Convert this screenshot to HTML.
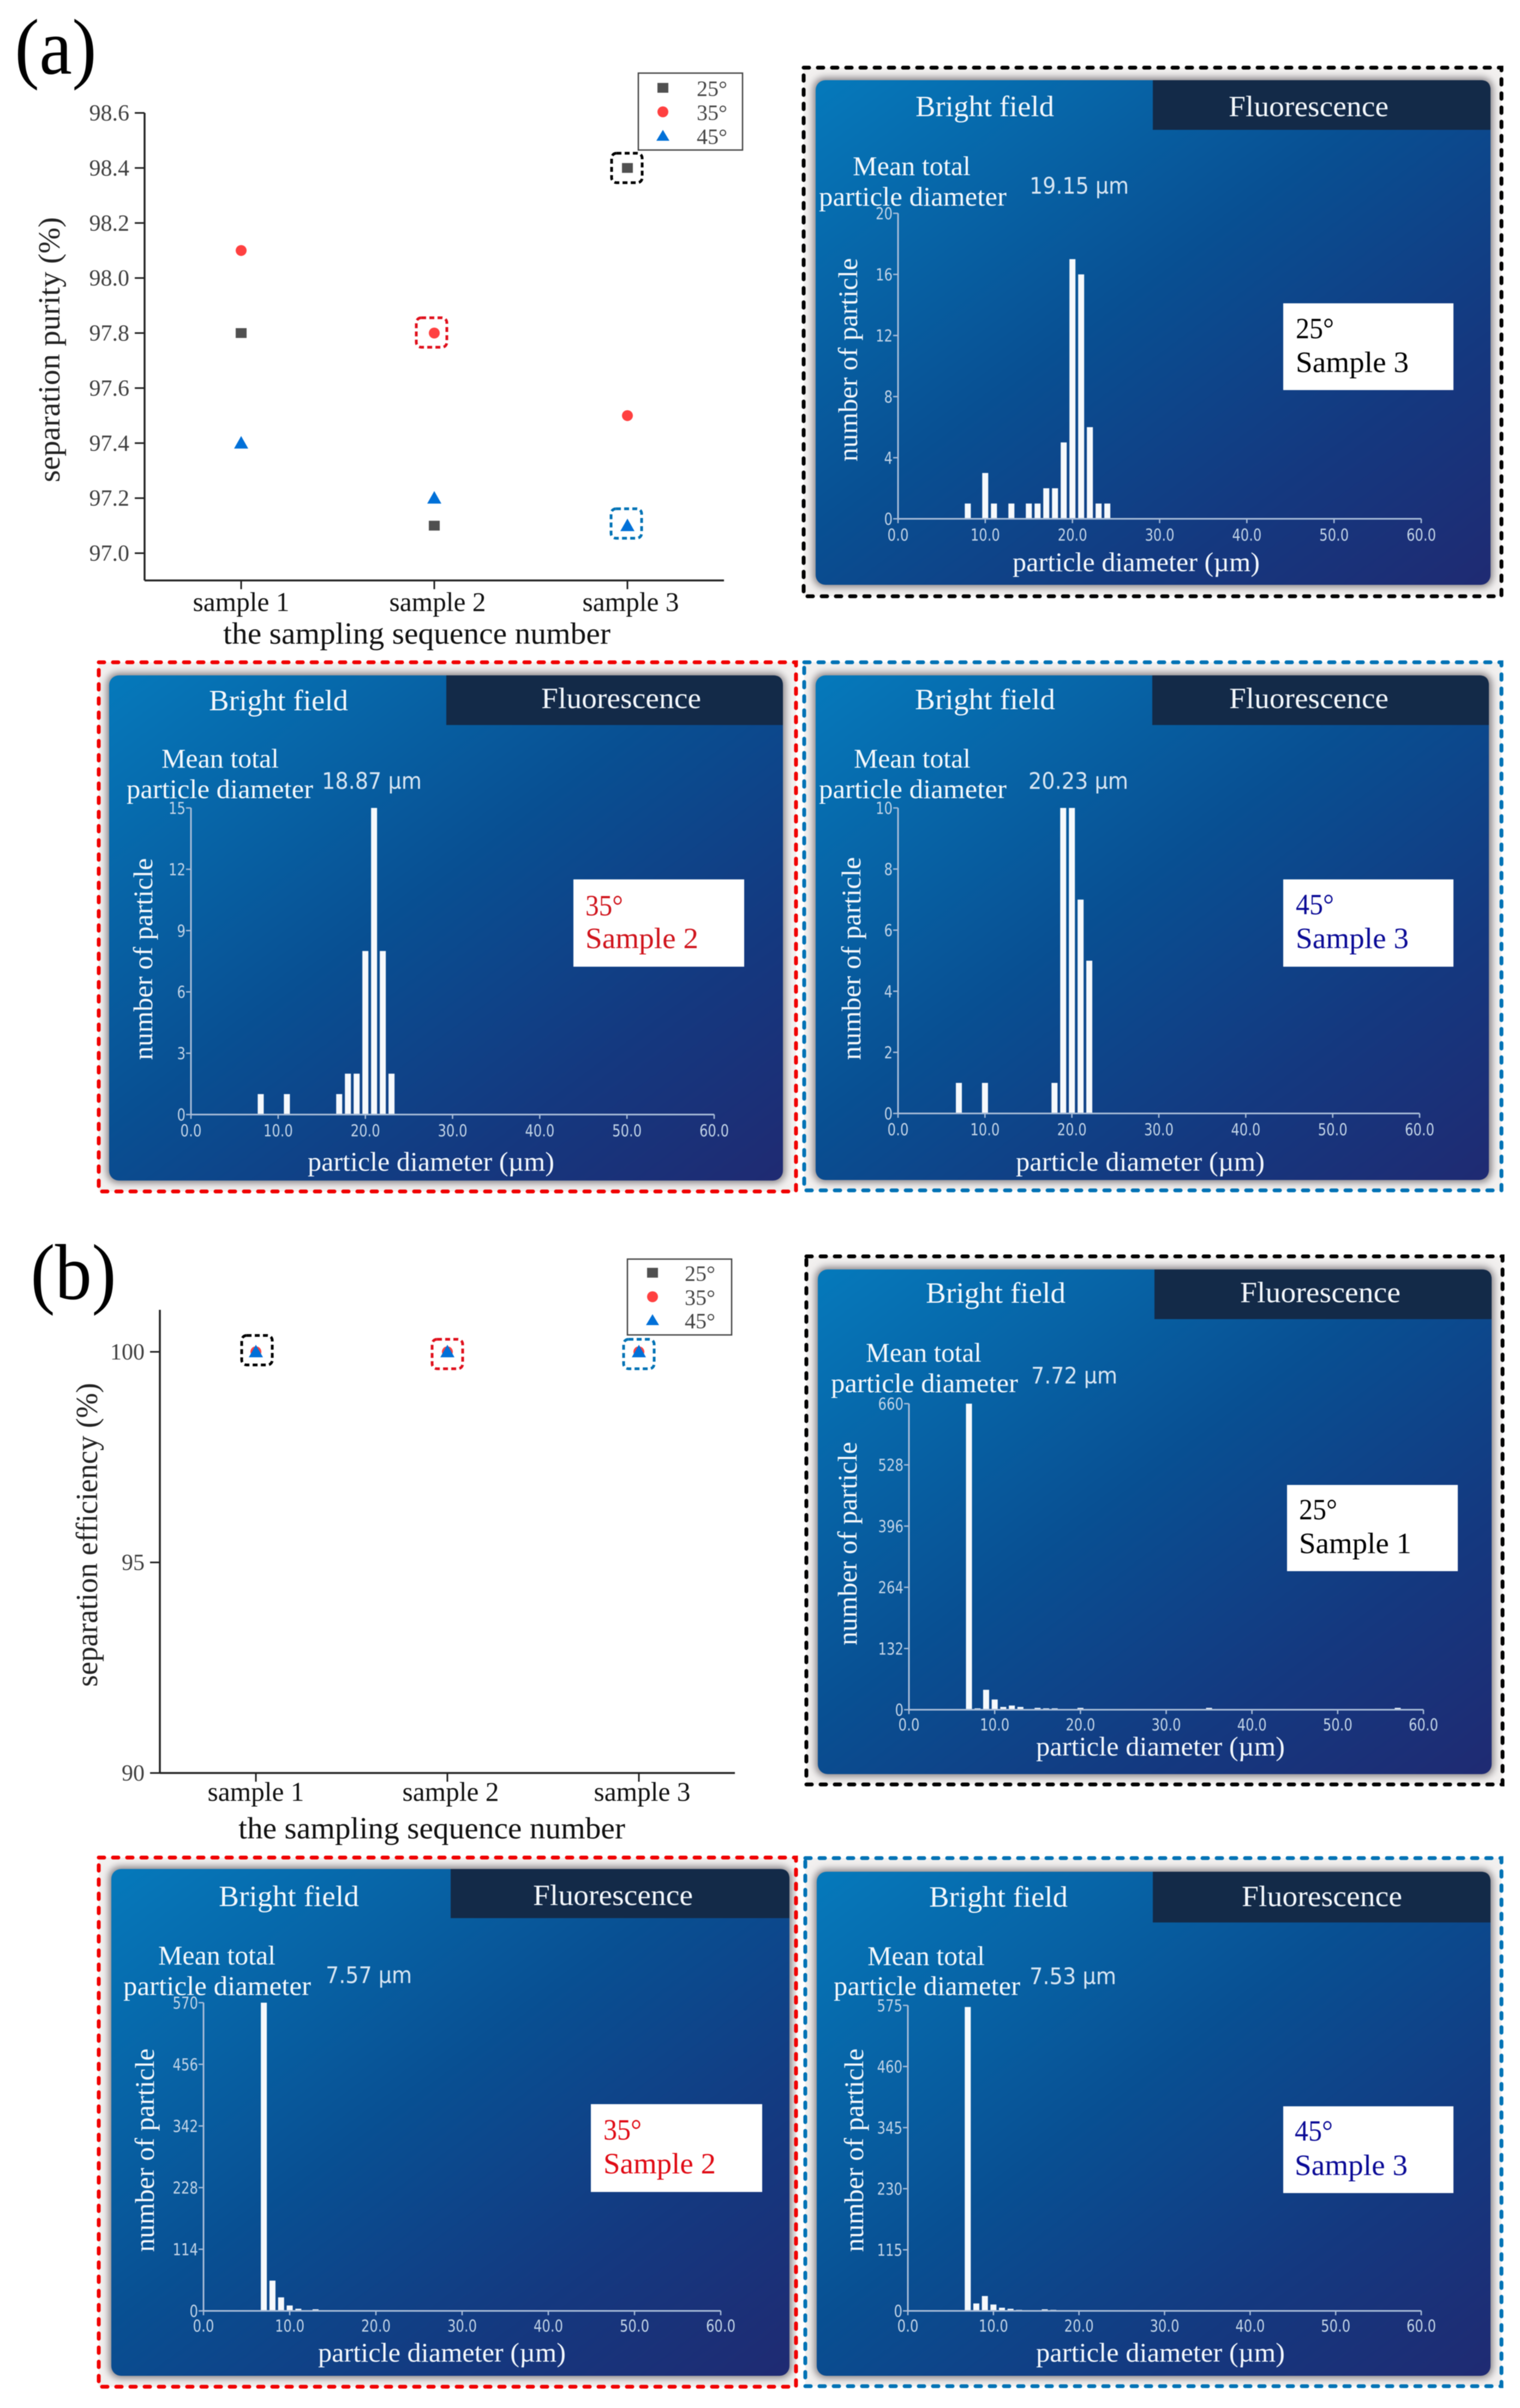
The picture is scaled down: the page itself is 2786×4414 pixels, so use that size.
<!DOCTYPE html>
<html lang="en">
<head>
<meta charset="utf-8">
<title>Separation purity and efficiency with particle diameter histograms</title>
<style>
html,body{margin:0;padding:0;background:#fff;}
#figure{display:block;width:2786px;height:4414px;filter:blur(0.8px);}
.serif{font-family:"Liberation Serif",serif;}
.sans{font-family:"DejaVu Sans",sans-serif;}
.white{fill:#f4f8fc;}
.tab-text{font-size:54px;}
.mean{font-size:50px;}
.value{font-size:42px;fill:#d8e6f3;}
.axis-title{font-size:50px;}
.badge{font-size:54px;}
.main-x-title{font-size:56px;fill:#111;}
.main-y-title{font-size:56px;fill:#222;}
.legend-label{font-size:40px;fill:#444;}
.panel-letter{font-size:145px;fill:#000;}
</style>
</head>
<body>
<svg id="figure" xmlns="http://www.w3.org/2000/svg" width="2786" height="4414" viewBox="0 0 2786 4414">
<defs>
<linearGradient id="panelGrad" x1="0" y1="0" x2="1" y2="1">
<stop offset="0" stop-color="#0579bb"/>
<stop offset="0.45" stop-color="#084f92"/>
<stop offset="0.75" stop-color="#14387f"/>
<stop offset="1" stop-color="#1f2a72"/>
</linearGradient>
<filter id="glow" x="-5%" y="-5%" width="110%" height="110%"><feGaussianBlur stdDeviation="7"/></filter>
</defs>
<rect x="0" y="0" width="2786" height="4414" fill="#fff"/>

<!-- (a) scatter chart -->
<text class="serif panel-letter" x="27" y="135" textLength="150" lengthAdjust="spacingAndGlyphs">(a)</text>
<g id="purityChart"></g>
<text class="serif main-y-title" transform="translate(109,884) rotate(-90)" textLength="486" lengthAdjust="spacingAndGlyphs">separation purity (%)</text>
<text class="serif main-x-title" x="409" y="1180" textLength="710" lengthAdjust="spacingAndGlyphs">the sampling sequence number</text>
<g>
<rect x="1170" y="134" width="191" height="141" fill="#fff" stroke="#444" stroke-width="2.5"/>
<rect x="1205" y="152" width="20" height="18" fill="#505050"/>
<circle cx="1215" cy="205" r="10" fill="#ff4040"/>
<polygon points="1215,238 1227,258 1203,258" fill="#0070d8"/>
<text class="serif legend-label" x="1277" y="176">25°</text>
<text class="serif legend-label" x="1277" y="220">35°</text>
<text class="serif legend-label" x="1277" y="264">45°</text>
</g>

<!-- (b) scatter chart -->
<text class="serif panel-letter" x="56" y="2381" textLength="157" lengthAdjust="spacingAndGlyphs">(b)</text>
<g id="efficiencyChart"></g>
<text class="serif main-y-title" transform="translate(178,3092) rotate(-90)" textLength="557" lengthAdjust="spacingAndGlyphs">separation efficiency (%)</text>
<text class="serif main-x-title" x="437" y="3370" textLength="709" lengthAdjust="spacingAndGlyphs">the sampling sequence number</text>
<g>
<rect x="1150" y="2308" width="191" height="139" fill="#fff" stroke="#444" stroke-width="2.5"/>
<rect x="1186" y="2324" width="20" height="18" fill="#505050"/>
<circle cx="1196" cy="2377" r="10" fill="#ff4040"/>
<polygon points="1196,2409 1208,2429 1184,2429" fill="#0070d8"/>
<text class="serif legend-label" x="1255" y="2348">25°</text>
<text class="serif legend-label" x="1255" y="2392">35°</text>
<text class="serif legend-label" x="1255" y="2435">45°</text>
</g>

<!-- Panel A: 25 deg sample 3 -->
<g>
<rect x="1473" y="124" width="1279" height="969" fill="#f2f0ef"/>
<rect x="1491" y="143" width="1245" height="933" rx="20" fill="#807c80" filter="url(#glow)"/>
<rect x="1473" y="124" width="1279" height="969" fill="none" stroke="#000" stroke-width="7" stroke-dasharray="10 16" stroke-linecap="round"/>
<rect x="1495" y="147" width="1237" height="925" rx="18" fill="url(#panelGrad)"/>
<path d="M2113,147H2714Q2732,147 2732,165V238H2113Z" fill="#132a48"/>
<text class="serif white tab-text" x="1678" y="213" textLength="254" lengthAdjust="spacingAndGlyphs">Bright field</text>
<text class="serif white tab-text" x="2252" y="213" textLength="293" lengthAdjust="spacingAndGlyphs">Fluorescence</text>
<text class="serif white mean" x="1563" y="321" textLength="216" lengthAdjust="spacingAndGlyphs">Mean total</text>
<text class="serif white mean" x="1501" y="377" textLength="344" lengthAdjust="spacingAndGlyphs">particle diameter</text>
<text class="sans value" x="1887" y="355" textLength="182" lengthAdjust="spacingAndGlyphs">19.15 µm</text>
<rect x="2352" y="556" width="312" height="159" fill="#fff"/>
<text class="serif badge" x="2375" y="620" fill="#000" textLength="70" lengthAdjust="spacingAndGlyphs">25°</text>
<text class="serif badge" x="2375" y="682" fill="#000" textLength="207" lengthAdjust="spacingAndGlyphs">Sample 3</text>
<text class="serif white axis-title" x="1856" y="1047" textLength="453" lengthAdjust="spacingAndGlyphs">particle diameter (µm)</text>
<text class="serif white axis-title" transform="translate(1571,846) rotate(-90)" textLength="373" lengthAdjust="spacingAndGlyphs">number of particle</text>
<g id="histA25"></g>
</g>

<!-- Panel A: 35 deg sample 2 -->
<g>
<rect x="181" y="1214" width="1278" height="970" fill="#f2f0ef"/>
<rect x="196" y="1234" width="1243" height="934" rx="20" fill="#807c80" filter="url(#glow)"/>
<rect x="181" y="1214" width="1278" height="970" fill="none" stroke="#f00000" stroke-width="7" stroke-dasharray="10 16" stroke-linecap="round"/>
<rect x="200" y="1238" width="1235" height="926" rx="18" fill="url(#panelGrad)"/>
<path d="M818,1238H1417Q1435,1238 1435,1256V1329H818Z" fill="#132a48"/>
<text class="serif white tab-text" x="383" y="1302" textLength="255" lengthAdjust="spacingAndGlyphs">Bright field</text>
<text class="serif white tab-text" x="992" y="1298" textLength="293" lengthAdjust="spacingAndGlyphs">Fluorescence</text>
<text class="serif white mean" x="296" y="1407" textLength="215" lengthAdjust="spacingAndGlyphs">Mean total</text>
<text class="serif white mean" x="232" y="1463" textLength="342" lengthAdjust="spacingAndGlyphs">particle diameter</text>
<text class="sans value" x="590" y="1446" textLength="183" lengthAdjust="spacingAndGlyphs">18.87 µm</text>
<rect x="1051" y="1612" width="313" height="160" fill="#fff"/>
<text class="serif badge" x="1073" y="1678" fill="#d0141c" textLength="69" lengthAdjust="spacingAndGlyphs">35°</text>
<text class="serif badge" x="1073" y="1738" fill="#d0141c" textLength="207" lengthAdjust="spacingAndGlyphs">Sample 2</text>
<text class="serif white axis-title" x="564" y="2146" textLength="452" lengthAdjust="spacingAndGlyphs">particle diameter (µm)</text>
<text class="serif white axis-title" transform="translate(279,1943) rotate(-90)" textLength="370" lengthAdjust="spacingAndGlyphs">number of particle</text>
<g id="histA35"></g>
</g>

<!-- Panel A: 45 deg sample 3 -->
<g>
<rect x="1474" y="1214" width="1278" height="968" fill="#f2f0ef"/>
<rect x="1491" y="1234" width="1243" height="933" rx="20" fill="#807c80" filter="url(#glow)"/>
<rect x="1474" y="1214" width="1278" height="968" fill="none" stroke="#0072b5" stroke-width="7" stroke-dasharray="10 16" stroke-linecap="round"/>
<rect x="1495" y="1238" width="1234" height="925" rx="18" fill="url(#panelGrad)"/>
<path d="M2112,1238H2711Q2729,1238 2729,1256V1329H2112Z" fill="#132a48"/>
<text class="serif white tab-text" x="1677" y="1300" textLength="257" lengthAdjust="spacingAndGlyphs">Bright field</text>
<text class="serif white tab-text" x="2253" y="1298" textLength="292" lengthAdjust="spacingAndGlyphs">Fluorescence</text>
<text class="serif white mean" x="1565" y="1407" textLength="214" lengthAdjust="spacingAndGlyphs">Mean total</text>
<text class="serif white mean" x="1501" y="1463" textLength="344" lengthAdjust="spacingAndGlyphs">particle diameter</text>
<text class="sans value" x="1885" y="1446" textLength="183" lengthAdjust="spacingAndGlyphs">20.23 µm</text>
<rect x="2352" y="1612" width="312" height="160" fill="#fff"/>
<text class="serif badge" x="2375" y="1676" fill="#0a0a96" textLength="70" lengthAdjust="spacingAndGlyphs">45°</text>
<text class="serif badge" x="2375" y="1738" fill="#0a0a96" textLength="207" lengthAdjust="spacingAndGlyphs">Sample 3</text>
<text class="serif white axis-title" x="1862" y="2146" textLength="456" lengthAdjust="spacingAndGlyphs">particle diameter (µm)</text>
<text class="serif white axis-title" transform="translate(1577,1943) rotate(-90)" textLength="372" lengthAdjust="spacingAndGlyphs">number of particle</text>
<g id="histA45"></g>
</g>

<!-- Panel B: 25 deg sample 1 -->
<g>
<rect x="1478" y="2303" width="1276" height="968" fill="#f2f0ef"/>
<rect x="1495" y="2323" width="1243" height="933" rx="20" fill="#807c80" filter="url(#glow)"/>
<rect x="1478" y="2303" width="1276" height="968" fill="none" stroke="#000" stroke-width="7" stroke-dasharray="10 16" stroke-linecap="round"/>
<rect x="1499" y="2327" width="1235" height="925" rx="18" fill="url(#panelGrad)"/>
<path d="M2116,2327H2716Q2734,2327 2734,2345V2418H2116Z" fill="#132a48"/>
<text class="serif white tab-text" x="1697" y="2388" textLength="256" lengthAdjust="spacingAndGlyphs">Bright field</text>
<text class="serif white tab-text" x="2273" y="2387" textLength="294" lengthAdjust="spacingAndGlyphs">Fluorescence</text>
<text class="serif white mean" x="1587" y="2496" textLength="212" lengthAdjust="spacingAndGlyphs">Mean total</text>
<text class="serif white mean" x="1523" y="2552" textLength="343" lengthAdjust="spacingAndGlyphs">particle diameter</text>
<text class="sans value" x="1890" y="2536" textLength="158" lengthAdjust="spacingAndGlyphs">7.72 µm</text>
<rect x="2359" y="2722" width="313" height="158" fill="#fff"/>
<text class="serif badge" x="2381" y="2785" fill="#000" textLength="70" lengthAdjust="spacingAndGlyphs">25°</text>
<text class="serif badge" x="2381" y="2847" fill="#000" textLength="206" lengthAdjust="spacingAndGlyphs">Sample 1</text>
<text class="serif white axis-title" x="1899" y="3218" textLength="456" lengthAdjust="spacingAndGlyphs">particle diameter (µm)</text>
<text class="serif white axis-title" transform="translate(1570,3016) rotate(-90)" textLength="373" lengthAdjust="spacingAndGlyphs">number of particle</text>
<g id="histB25"></g>
</g>

<!-- Panel B: 35 deg sample 2 -->
<g>
<rect x="181" y="3405" width="1278" height="970" fill="#f2f0ef"/>
<rect x="200" y="3422" width="1251" height="937" rx="20" fill="#807c80" filter="url(#glow)"/>
<rect x="181" y="3405" width="1278" height="970" fill="none" stroke="#f00000" stroke-width="7" stroke-dasharray="10 16" stroke-linecap="round"/>
<rect x="204" y="3426" width="1243" height="929" rx="18" fill="url(#panelGrad)"/>
<path d="M826,3426H1429Q1447,3426 1447,3444V3516H826Z" fill="#132a48"/>
<text class="serif white tab-text" x="401" y="3494" textLength="257" lengthAdjust="spacingAndGlyphs">Bright field</text>
<text class="serif white tab-text" x="977" y="3492" textLength="293" lengthAdjust="spacingAndGlyphs">Fluorescence</text>
<text class="serif white mean" x="290" y="3601" textLength="215" lengthAdjust="spacingAndGlyphs">Mean total</text>
<text class="serif white mean" x="226" y="3657" textLength="344" lengthAdjust="spacingAndGlyphs">particle diameter</text>
<text class="sans value" x="597" y="3635" textLength="158" lengthAdjust="spacingAndGlyphs">7.57 µm</text>
<rect x="1083" y="3857" width="314" height="161" fill="#fff"/>
<text class="serif badge" x="1106" y="3922" fill="#e00a14" textLength="70" lengthAdjust="spacingAndGlyphs">35°</text>
<text class="serif badge" x="1106" y="3984" fill="#e00a14" textLength="206" lengthAdjust="spacingAndGlyphs">Sample 2</text>
<text class="serif white axis-title" x="583" y="4329" textLength="454" lengthAdjust="spacingAndGlyphs">particle diameter (µm)</text>
<text class="serif white axis-title" transform="translate(282,4128) rotate(-90)" textLength="373" lengthAdjust="spacingAndGlyphs">number of particle</text>
<g id="histB35"></g>
</g>

<!-- Panel B: 45 deg sample 3 -->
<g>
<rect x="1476" y="3406" width="1276" height="968" fill="#f2f0ef"/>
<rect x="1493" y="3427" width="1243" height="932" rx="20" fill="#807c80" filter="url(#glow)"/>
<rect x="1476" y="3406" width="1276" height="968" fill="none" stroke="#0072b5" stroke-width="7" stroke-dasharray="10 16" stroke-linecap="round"/>
<rect x="1497" y="3431" width="1235" height="924" rx="18" fill="url(#panelGrad)"/>
<path d="M2113,3431H2714Q2732,3431 2732,3449V3524H2113Z" fill="#132a48"/>
<text class="serif white tab-text" x="1703" y="3495" textLength="254" lengthAdjust="spacingAndGlyphs">Bright field</text>
<text class="serif white tab-text" x="2276" y="3494" textLength="294" lengthAdjust="spacingAndGlyphs">Fluorescence</text>
<text class="serif white mean" x="1590" y="3602" textLength="215" lengthAdjust="spacingAndGlyphs">Mean total</text>
<text class="serif white mean" x="1528" y="3657" textLength="342" lengthAdjust="spacingAndGlyphs">particle diameter</text>
<text class="sans value" x="1887" y="3637" textLength="159" lengthAdjust="spacingAndGlyphs">7.53 µm</text>
<rect x="2352" y="3861" width="312" height="159" fill="#fff"/>
<text class="serif badge" x="2373" y="3924" fill="#0a0a96" textLength="70" lengthAdjust="spacingAndGlyphs">45°</text>
<text class="serif badge" x="2373" y="3987" fill="#0a0a96" textLength="207" lengthAdjust="spacingAndGlyphs">Sample 3</text>
<text class="serif white axis-title" x="1899" y="4329" textLength="456" lengthAdjust="spacingAndGlyphs">particle diameter (µm)</text>
<text class="serif white axis-title" transform="translate(1582,4128) rotate(-90)" textLength="373" lengthAdjust="spacingAndGlyphs">number of particle</text>
<g id="histB45"></g>
</g>
</svg>

<script>
// ----- Scatter chart data -----
const sampleCategories = ['sample 1', 'sample 2', 'sample 3'];
const purity25 = [97.8, 97.1, 98.4];
const purity35 = [98.1, 97.8, 97.5];
const purity45 = [97.4, 97.2, 97.1];
const purityTicks = [97.0, 97.2, 97.4, 97.6, 97.8, 98.0, 98.2, 98.4, 98.6];
const efficiency25 = [100, 100, 100];
const efficiency35 = [100, 100, 100];
const efficiency45 = [100, 100, 100];
const efficiencyTicks = [90, 95, 100];

// ----- Histogram data -----
const diameterTicks = [0, 10, 20, 30, 40, 50, 60];

const a25Diameters = [8, 10, 11, 13, 15, 16, 17, 18, 19, 20, 21, 22, 23, 24];
const a25Counts = [1, 3, 1, 1, 1, 1, 2, 2, 5, 17, 16, 6, 1, 1];
const a25Ticks = [0, 4, 8, 12, 16, 20];

const a35Diameters = [8, 11, 17, 18, 19, 20, 21, 22, 23];
const a35Counts = [1, 1, 1, 2, 2, 8, 15, 8, 2];
const a35Ticks = [0, 3, 6, 9, 12, 15];

const a45Diameters = [7, 10, 18, 19, 20, 21, 22];
const a45Counts = [1, 1, 1, 10, 10, 7, 5];
const a45Ticks = [0, 2, 4, 6, 8, 10];

const b25Diameters = [7, 8, 9, 10, 11, 12, 13, 15, 16, 17, 20, 35, 57];
const b25Counts = [660, 3, 43, 22, 6, 9, 6, 4, 3, 3, 4, 4, 4];
const b25Ticks = [0, 132, 264, 396, 528, 660];

const b35Diameters = [7, 8, 9, 10, 11, 13];
const b35Counts = [570, 56, 25, 10, 4, 3];
const b35Ticks = [0, 114, 228, 342, 456, 570];

const b45Diameters = [7, 8, 9, 10, 11, 12, 13, 16, 17, 19];
const b45Counts = [572, 14, 28, 12, 6, 4, 2, 3, 2, 1];
const b45Ticks = [0, 115, 230, 345, 460, 575];

const SVG_NS = 'http://www.w3.org/2000/svg';

function make(parent, tag, attrs) {
  const el = document.createElementNS(SVG_NS, tag);
  for (const key in attrs) el.setAttribute(key, attrs[key]);
  parent.appendChild(el);
  return el;
}

// ----- Histogram drawing -----
function drawHistogram(groupId, prefix, frame, diameters, counts, yTicks) {
  const g = document.getElementById(groupId);
  const xOf = function (v) {
    return frame.left + (v - diameterTicks[0]) * (frame.right - frame.left) / (diameterTicks[diameterTicks.length - 1] - diameterTicks[0]);
  };
  const yOf = function (v) {
    return frame.bottom - (v - yTicks[0]) * (frame.bottom - frame.top) / (yTicks[yTicks.length - 1] - yTicks[0]);
  };

  diameters.forEach(function (d, i) {
    const bar = make(g, 'rect', {
      x: xOf(d) - 5.5, y: yOf(counts[i]), width: 11,
      height: Math.max(yOf(0) - yOf(counts[i]), 0), fill: '#f6f9fc'
    });
    
    
  });

  const yAxis = make(g, 'line', { x1: frame.left, x2: frame.left, y1: frame.top, y2: frame.bottom, stroke: '#a9bdd8', 'stroke-width': 3 });
  
  

  const xAxis = make(g, 'line', { x1: frame.left, x2: frame.right, y1: frame.bottom, y2: frame.bottom, stroke: '#a9bdd8', 'stroke-width': 3 });
  
  

  yTicks.forEach(function (t) {
    const y = yOf(t);
    const mark = make(g, 'line', { x1: frame.left - 9, x2: frame.left, y1: y, y2: y, stroke: '#a9bdd8', 'stroke-width': 2.5 });
    
    
    const label = make(g, 'text', { x: frame.left - 10, y: y + 11, 'text-anchor': 'end', fill: '#c2d4e7', 'font-size': 30, 'font-family': '"DejaVu Sans", sans-serif' });
    label.textContent = String(t);
    label.setAttribute('textLength', String(t).length * 15.5);
    label.setAttribute('lengthAdjust', 'spacingAndGlyphs');
    
    
  });

  diameterTicks.forEach(function (t) {
    const x = xOf(t);
    const mark = make(g, 'line', { x1: x, x2: x, y1: frame.bottom, y2: frame.bottom + 8, stroke: '#a9bdd8', 'stroke-width': 2.5 });
    
    
    const label = make(g, 'text', { x: x, y: frame.labelY, 'text-anchor': 'middle', fill: '#c2d4e7', 'font-size': 30, 'font-family': '"DejaVu Sans", sans-serif' });
    label.textContent = t.toFixed(1);
    label.setAttribute('textLength', t === 0 ? 39 : 54);
    label.setAttribute('lengthAdjust', 'spacingAndGlyphs');
    
    
  });
}

drawHistogram('histA25', 'panel-a25', { left: 1646, right: 2605, top: 391, bottom: 951, labelY: 991 }, a25Diameters, a25Counts, a25Ticks);
drawHistogram('histA35', 'panel-a35', { left: 350, right: 1309, top: 1481, bottom: 2043, labelY: 2083 }, a35Diameters, a35Counts, a35Ticks);
drawHistogram('histA45', 'panel-a45', { left: 1646, right: 2602, top: 1481, bottom: 2041, labelY: 2081 }, a45Diameters, a45Counts, a45Ticks);
drawHistogram('histB25', 'panel-b25', { left: 1666, right: 2609, top: 2573, bottom: 3134, labelY: 3172 }, b25Diameters, b25Counts, b25Ticks);
drawHistogram('histB35', 'panel-b35', { left: 373, right: 1321, top: 3671, bottom: 4236, labelY: 4274 }, b35Diameters, b35Counts, b35Ticks);
drawHistogram('histB45', 'panel-b45', { left: 1664, right: 2605, top: 3676, bottom: 4236, labelY: 4274 }, b45Diameters, b45Counts, b45Ticks);

// ----- Scatter drawing -----
function drawScatter(groupId, prefix, frame, yTicks, tickDigits, s25, s35, s45, highlights) {
  const g = document.getElementById(groupId);
  const yOf = function (v) {
    return frame.yLow - (v - yTicks[0]) * (frame.yLow - frame.yHigh) / (yTicks[yTicks.length - 1] - yTicks[0]);
  };
  const xOf = function (i) {
    return frame.firstX + i * frame.stepX;
  };

  const yAxis = make(g, 'line', { x1: frame.left, x2: frame.left, y1: frame.top, y2: frame.bottom, stroke: '#222', 'stroke-width': 3.5 });
  
  

  const xAxis = make(g, 'line', { x1: frame.left, x2: frame.right, y1: frame.bottom, y2: frame.bottom, stroke: '#222', 'stroke-width': 3.5 });
  
  

  yTicks.forEach(function (t) {
    const y = yOf(t);
    const mark = make(g, 'line', { x1: frame.left - 18, x2: frame.left, y1: y, y2: y, stroke: '#222', 'stroke-width': 3 });
    
    
    const label = make(g, 'text', { x: frame.left - 28, y: y + 14, 'text-anchor': 'end', fill: '#3f3f3f', 'font-size': 42, 'font-family': '"Liberation Serif", serif' });
    label.textContent = t.toFixed(tickDigits);
    
    
  });

  sampleCategories.forEach(function (c, i) {
    const x = xOf(i);
    const mark = make(g, 'line', { x1: x, x2: x, y1: frame.bottom, y2: frame.bottom + 16, stroke: '#222', 'stroke-width': 3 });
    
    
    const label = make(g, 'text', { x: x + (i === 0 ? 0 : 6), y: frame.labelY, 'text-anchor': 'middle', fill: '#111', 'font-size': 50, 'font-family': '"Liberation Serif", serif' });
    label.textContent = c;
    label.setAttribute('textLength', 177);
    label.setAttribute('lengthAdjust', 'spacingAndGlyphs');
    
    
  });

  s25.forEach(function (v, i) {
    const m = make(g, 'rect', { x: xOf(i) - frame.squareW / 2, y: yOf(v) - frame.squareH / 2, width: frame.squareW, height: frame.squareH, fill: '#505050' });
    
    
  });
  s35.forEach(function (v, i) {
    const m = make(g, 'circle', { cx: xOf(i), cy: yOf(v), r: 10, fill: '#ff4040' });
    
    
  });
  s45.forEach(function (v, i) {
    const px = xOf(i), py = yOf(v);
    const m = make(g, 'polygon', { points: px + ',' + (py - 13) + ' ' + (px + 13) + ',' + (py + 10) + ' ' + (px - 13) + ',' + (py + 10), fill: '#0070d8' });
    
    
  });

  highlights.forEach(function (h) {
    const v = h.series[h.index];
    const box = make(g, 'rect', {
      x: xOf(h.index) + h.dx - 28, y: yOf(v) + h.dy - 27, width: 56, height: 54, rx: 9,
      fill: 'none', stroke: h.color, 'stroke-width': 5, 'stroke-dasharray': '9 6'
    });
    
    
  });
}

drawScatter('purityChart', 'purity',
  { left: 265, right: 1327, top: 207, bottom: 1064, yLow: 1014, yHigh: 207, firstX: 442, stepX: 354, labelY: 1120, squareW: 20, squareH: 18 },
  purityTicks, 1, purity25, purity35, purity45,
  [
    { series: purity25, index: 2, color: '#000', dx: -1, dy: 0 },
    { series: purity35, index: 1, color: '#e0101c', dx: -5, dy: -1 },
    { series: purity45, index: 2, color: '#0072b5', dx: -2, dy: -4 }
  ]);

drawScatter('efficiencyChart', 'efficiency',
  { left: 293, right: 1347, top: 2401, bottom: 3250, yLow: 3250, yHigh: 2478, firstX: 469, stepX: 351, labelY: 3301, squareW: 12, squareH: 12 },
  efficiencyTicks, 0, efficiency25, efficiency35, efficiency45,
  [
    { series: efficiency25, index: 0, color: '#000', dx: 2, dy: -3 },
    { series: efficiency35, index: 1, color: '#e0101c', dx: 0, dy: 4 },
    { series: efficiency45, index: 2, color: '#0072b5', dx: 0, dy: 4 }
  ]);
</script>
</body>
</html>
